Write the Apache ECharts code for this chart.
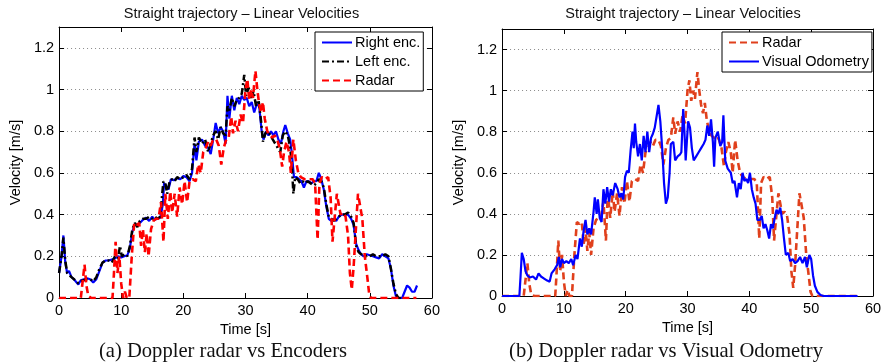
<!DOCTYPE html>
<html>
<head>
<meta charset="utf-8">
<script src="https://cdn.jsdelivr.net/npm/echarts@6/dist/echarts.min.js"></script>
<style>
  html, body { margin: 0; padding: 0; background: #fff; }
  .box { position: absolute; top: 0; width: 443px; height: 362px; }
  .enc { left: 0; }
  .vo { left: 443px; }
</style>
</head>
<body>
<div class="box enc"></div>
<div class="box vo"></div>
<script>
// time ticks / velocity ticks
var timeTicks = [0, 10, 20, 30, 40, 50, 60]
var velTicks = [0, 0.2, 0.4, 0.6, 0.8, 1, 1.2]

// [time s, velocity m/s]
var rightEnc = [[0,0.12],[0.4,0.2],[0.7,0.30],[1.0,0.17],[1.3,0.12],[1.6,0.13],[2.0,0.10],[2.4,0.09],[2.8,0.075],[3.1,0.065],[3.5,0.085],[4.0,0.09],[4.5,0.095],[5.0,0.09],[5.5,0.075],[6.0,0.09],[6.5,0.13],[7.0,0.17],[7.5,0.18],[8.0,0.18],[8.5,0.185],[9.0,0.19],[9.5,0.2],[10.0,0.195],[10.5,0.2],[11.0,0.205],[11.4,0.24],[11.8,0.32],[12.2,0.355],[12.6,0.35],[13.0,0.36],[13.5,0.375],[14.0,0.385],[14.5,0.37],[15.0,0.39],[15.4,0.375],[15.8,0.38],[16.3,0.385],[16.7,0.45],[16.9,0.55],[17.2,0.54],[17.6,0.52],[18.0,0.57],[18.5,0.565],[19.0,0.575],[19.5,0.57],[20.0,0.585],[20.5,0.58],[21.0,0.56],[21.4,0.6],[21.8,0.74],[22.1,0.66],[22.5,0.75],[23.0,0.76],[23.5,0.73],[24.0,0.72],[24.4,0.69],[24.8,0.76],[25.2,0.84],[25.6,0.79],[26.0,0.82],[26.4,0.8],[26.8,0.74],[27.1,0.97],[27.4,0.86],[27.8,0.97],[28.2,0.9],[28.6,0.96],[29.0,0.93],[29.4,0.97],[29.8,0.95],[30.2,0.96],[30.6,0.92],[31.0,0.94],[31.4,0.89],[31.8,0.93],[32.2,0.92],[32.6,0.8],[32.9,0.76],[33.3,0.8],[33.7,0.78],[34.1,0.8],[34.5,0.78],[34.9,0.8],[35.3,0.76],[35.7,0.74],[36.1,0.8],[36.4,0.83],[36.8,0.79],[37.2,0.76],[37.5,0.68],[37.8,0.58],[38.2,0.58],[38.6,0.57],[39.0,0.56],[39.4,0.53],[39.8,0.56],[40.2,0.56],[40.6,0.55],[41.0,0.56],[41.4,0.56],[41.8,0.6],[42.2,0.57],[42.6,0.52],[43.0,0.44],[43.4,0.38],[43.8,0.37],[44.2,0.38],[44.6,0.37],[45.0,0.39],[45.5,0.4],[46.0,0.4],[46.5,0.4],[47.0,0.38],[47.4,0.35],[47.8,0.26],[48.2,0.23],[48.6,0.21],[49.0,0.2],[49.5,0.21],[50.0,0.205],[50.5,0.2],[51.0,0.195],[51.5,0.19],[52.0,0.21],[52.5,0.2],[53.0,0.19],[53.4,0.14],[53.8,0.06],[54.2,0.01],[54.6,0],[55.2,0],[55.6,0.03],[56.0,0.06],[56.4,0.05],[56.8,0.03],[57.2,0.03],[57.6,0.06]]

var leftEnc = [[0,0.12],[0.4,0.2],[0.7,0.29],[1.0,0.18],[1.3,0.12],[1.6,0.12],[2.0,0.1],[2.4,0.09],[2.8,0.08],[3.1,0.07],[3.5,0.08],[4.0,0.085],[4.5,0.09],[5.0,0.09],[5.5,0.08],[6.0,0.1],[6.5,0.14],[7.0,0.17],[7.5,0.18],[8.0,0.18],[8.5,0.17],[9.0,0.2],[9.5,0.19],[9.8,0.25],[10.1,0.2],[10.5,0.21],[11.0,0.2],[11.4,0.25],[11.8,0.33],[12.2,0.36],[12.6,0.34],[13.0,0.37],[13.5,0.38],[14.0,0.38],[14.5,0.39],[15.0,0.38],[15.4,0.39],[15.8,0.38],[16.3,0.39],[16.6,0.5],[16.8,0.56],[17.1,0.55],[17.4,0.5],[17.8,0.56],[18.2,0.57],[18.6,0.56],[19.0,0.58],[19.5,0.57],[20.0,0.58],[20.5,0.59],[21.0,0.57],[21.4,0.62],[21.8,0.77],[22.1,0.7],[22.5,0.77],[23.0,0.74],[23.5,0.76],[24.0,0.7],[24.4,0.74],[24.8,0.78],[25.2,0.8],[25.6,0.76],[26.0,0.82],[26.4,0.79],[26.8,0.78],[27.1,0.92],[27.4,0.9],[27.8,0.96],[28.2,0.92],[28.6,0.95],[29.0,0.96],[29.4,0.98],[29.8,1.07],[30.1,0.97],[30.5,1.01],[30.9,0.96],[31.3,0.99],[31.7,0.92],[32.1,0.95],[32.5,0.85],[32.8,0.75],[33.2,0.79],[33.6,0.8],[34.0,0.78],[34.4,0.76],[34.8,0.74],[35.2,0.72],[35.6,0.7],[36.0,0.78],[36.4,0.8],[36.8,0.78],[37.2,0.72],[37.5,0.62],[37.7,0.5],[38.0,0.58],[38.4,0.57],[38.8,0.55],[39.2,0.56],[39.6,0.55],[40.0,0.56],[40.5,0.55],[41.0,0.54],[41.4,0.55],[41.8,0.57],[42.2,0.56],[42.6,0.53],[43.0,0.45],[43.4,0.39],[43.8,0.38],[44.2,0.37],[44.6,0.38],[45.0,0.39],[45.5,0.4],[46.0,0.4],[46.5,0.41],[47.0,0.39],[47.4,0.36],[47.8,0.25],[48.2,0.22],[48.6,0.21],[49.0,0.21],[49.5,0.2],[50.0,0.2],[50.5,0.21],[51.0,0.2],[51.5,0.2],[52.0,0.2],[52.5,0.21],[53.0,0.2],[53.4,0.14],[53.8,0.07],[54.2,0.02],[54.6,0],[55.0,0]]

var radar = [[0,0],[3.5,0],[3.8,0.08],[4.1,0.16],[4.4,0.06],[4.7,0.01],[5.2,0],[8.6,0],[8.8,0.1],[9.1,0.27],[9.4,0.12],[9.7,0.2],[10.0,0.07],[10.3,0.0],[10.6,0.03],[10.9,0],[11.3,0],[11.7,0.2],[12.1,0.36],[12.5,0.35],[12.9,0.36],[13.2,0.25],[13.5,0.33],[13.8,0.22],[14.1,0.31],[14.4,0.2],[14.8,0.33],[15.2,0.37],[15.6,0.38],[16.0,0.38],[16.4,0.46],[16.8,0.27],[17.1,0.5],[17.5,0.38],[17.9,0.51],[18.2,0.41],[18.6,0.5],[19.0,0.39],[19.4,0.53],[19.8,0.45],[20.2,0.56],[20.6,0.46],[21.0,0.56],[21.5,0.57],[22.0,0.56],[22.4,0.64],[22.8,0.6],[23.2,0.7],[23.6,0.72],[24.0,0.75],[24.4,0.73],[24.8,0.76],[25.3,0.76],[25.7,0.73],[26.1,0.64],[26.5,0.72],[26.9,0.76],[27.3,0.77],[27.7,0.87],[28.0,0.79],[28.4,0.85],[28.8,0.8],[29.2,0.88],[29.6,0.84],[30.0,1.0],[30.3,1.05],[30.6,0.95],[30.9,1.0],[31.2,0.96],[31.6,1.09],[31.9,1.0],[32.2,0.93],[32.5,0.89],[32.8,0.94],[33.1,0.86],[33.5,0.8],[33.9,0.78],[34.3,0.77],[34.7,0.78],[35.1,0.76],[35.5,0.72],[35.9,0.63],[36.2,0.7],[36.6,0.75],[37.0,0.7],[37.3,0.6],[37.7,0.76],[38.1,0.66],[38.5,0.6],[38.9,0.58],[39.5,0.57],[40.2,0.57],[40.8,0.57],[41.2,0.55],[41.6,0.28],[41.9,0.55],[42.3,0.58],[42.8,0.57],[43.3,0.58],[43.7,0.48],[44.0,0.27],[44.3,0.37],[44.7,0.5],[45.0,0.45],[45.3,0.4],[45.7,0.41],[46.1,0.39],[46.5,0.3],[46.8,0.12],[47.1,0.04],[47.4,0.15],[47.7,0.3],[48.1,0.5],[48.4,0.45],[48.8,0.38],[49.2,0.2],[49.6,0.1],[49.9,0.02],[50.2,0],[57.5,0]]

var visualOdo = [[0,0],[2.8,0],[3.0,0.1],[3.2,0.21],[3.5,0.18],[3.8,0.12],[4.1,0.1],[4.5,0.09],[5.0,0.095],[5.5,0.08],[5.9,0.11],[6.3,0.095],[6.8,0.085],[7.3,0.075],[7.7,0.07],[8.0,0.11],[8.5,0.13],[8.9,0.15],[9.2,0.19],[9.4,0.14],[9.7,0.18],[10.0,0.16],[10.4,0.17],[10.8,0.16],[11.2,0.18],[11.5,0.15],[11.9,0.2],[12.2,0.18],[12.6,0.28],[12.9,0.24],[13.2,0.32],[13.5,0.37],[13.8,0.3],[14.1,0.33],[14.4,0.3],[14.8,0.41],[15.0,0.48],[15.3,0.4],[15.5,0.47],[15.8,0.38],[16.1,0.36],[16.4,0.52],[16.7,0.45],[17.0,0.53],[17.3,0.46],[17.6,0.52],[17.9,0.49],[18.3,0.55],[18.7,0.52],[19.0,0.48],[19.3,0.5],[19.6,0.47],[19.9,0.58],[20.2,0.61],[20.5,0.6],[20.8,0.71],[21.1,0.8],[21.3,0.72],[21.5,0.84],[21.7,0.75],[22.0,0.68],[22.3,0.74],[22.6,0.66],[22.9,0.78],[23.2,0.7],[23.5,0.8],[23.8,0.7],[24.1,0.77],[24.4,0.79],[24.7,0.82],[25.0,0.82],[25.3,0.93],[25.6,0.85],[25.9,0.72],[26.2,0.55],[26.5,0.45],[26.8,0.48],[27.1,0.6],[27.3,0.74],[27.7,0.75],[28.0,0.66],[28.4,0.68],[28.8,0.69],[29.0,0.7],[29.3,0.91],[29.5,0.8],[29.7,0.66],[30.1,0.85],[30.4,0.82],[30.7,0.72],[31.0,0.66],[31.4,0.68],[31.8,0.7],[32.2,0.72],[32.6,0.74],[32.9,0.76],[33.2,0.83],[33.5,0.78],[33.8,0.86],[34.1,0.75],[34.3,0.63],[34.5,0.77],[34.9,0.8],[35.3,0.73],[35.6,0.75],[35.8,0.88],[36.1,0.66],[36.5,0.62],[37.0,0.6],[37.3,0.55],[37.6,0.56],[38.0,0.48],[38.3,0.55],[38.6,0.52],[38.9,0.6],[39.2,0.56],[39.5,0.57],[39.8,0.55],[40.1,0.6],[40.4,0.52],[40.7,0.48],[41.0,0.45],[41.3,0.37],[41.7,0.37],[42.0,0.39],[42.3,0.33],[42.6,0.35],[42.9,0.32],[43.2,0.28],[43.5,0.35],[43.8,0.33],[44.1,0.38],[44.4,0.42],[44.7,0.4],[45.0,0.43],[45.3,0.37],[45.6,0.28],[45.9,0.2],[46.3,0.21],[46.6,0.17],[47.0,0.18],[47.4,0.16],[47.8,0.17],[48.2,0.19],[48.6,0.16],[49.0,0.19],[49.3,0.14],[49.7,0.2],[50.0,0.18],[50.3,0.1],[50.6,0.05],[51.0,0.02],[51.5,0.005],[52.0,0],[57.5,0]]

var sans = 'Liberation Sans, Arial, sans-serif'
var serif = 'Liberation Serif, Times New Roman, serif'

// shared frame: box with inward ticks, dotted y grid
function buildOption(grid, caption, legend, series) {
  var midX = grid.left + (443 - grid.left - grid.right) / 2
  var tickCommon = { show: true, inside: true, length: 5, lineStyle: { color: '#000' } }
  var lineCommon = { show: true, onZero: false, lineStyle: { color: '#000', width: 1 } }
  return {
    animation: false,
    title: [
      {
        text: 'Straight trajectory \u2013 Linear Velocities',
        left: midX - 4, top: 1, textAlign: 'center',
        textStyle: { fontFamily: sans, fontSize: 14.5, fontWeight: 'normal', color: '#111' }
      },
      {
        text: caption,
        left: 218, top: 336, textAlign: 'center',
        textStyle: { fontFamily: serif, fontSize: 20.6, fontWeight: 'normal', color: '#111' }
      }
    ],
    legend: legend,
    grid: grid,
    xAxis: [
      {
        type: 'value', min: timeTicks[0], max: timeTicks[timeTicks.length - 1], interval: 10,
        name: 'Time [s]', nameLocation: 'middle', nameGap: 19,
        nameTextStyle: { fontFamily: sans, fontSize: 14.5, color: '#000' },
        axisLine: lineCommon, axisTick: tickCommon,
        axisLabel: { fontFamily: sans, fontSize: 14.5, color: '#000', margin: 5 },
        splitLine: { show: false }
      },
      {
        type: 'value', position: 'top', min: 0, max: 60, interval: 10,
        axisLine: lineCommon, axisTick: tickCommon,
        axisLabel: { show: false }, splitLine: { show: false }
      }
    ],
    yAxis: [
      {
        type: 'value', min: velTicks[0], max: 1.3, interval: 0.2,
        name: 'Velocity [m/s]', nameLocation: 'middle', nameGap: 29,
        nameTextStyle: { fontFamily: sans, fontSize: 14.5, color: '#000' },
        axisLine: lineCommon, axisTick: tickCommon,
        axisLabel: { fontFamily: sans, fontSize: 14.5, color: '#000', margin: 5, showMaxLabel: false },
        splitLine: { show: true, lineStyle: { color: '#8a8a8a', width: 1, type: [1, 3] } }
      },
      {
        type: 'value', position: 'right', min: 0, max: 1.3, interval: 0.2,
        axisLine: lineCommon, axisTick: tickCommon,
        axisLabel: { show: false }, splitLine: { show: false }
      }
    ],
    series: series
  }
}

function legendBox(left, top, names) {
  return {
    data: names,
    orient: 'vertical',
    left: left, top: top,
    padding: [3, 3, 3, 6],
    itemGap: 4,
    itemWidth: 30,
    itemHeight: 14,
    backgroundColor: '#fff',
    borderColor: '#000',
    borderWidth: 1,
    borderRadius: 0,
    selectedMode: false,
    // hide the marker, keep only the line sample
    itemStyle: { opacity: 0, borderWidth: 0 },
    textStyle: { fontFamily: sans, fontSize: 14.5, color: '#000', padding: [0, 0, 0, -2] }
  }
}

function lineSeries(name, data, color, width, type) {
  return {
    name: name, type: 'line', data: data,
    symbol: 'none', smooth: false,
    lineStyle: { color: color, width: width, type: type },
    itemStyle: { color: color }
  }
}

// (a) radar vs encoders
(function () {
  var chart = echarts.init(document.querySelector('.enc'), null, { renderer: 'canvas' })
  chart.setOption(buildOption(
    { left: 49, right: 11, top: 27, bottom: 64 },
    '(a) Doppler radar vs Encoders',
    legendBox(315, 32, ['Right enc.', 'Left enc.', 'Radar']),
    [
      lineSeries('Right enc.', rightEnc, '#0000ff', 2.2, 'solid'),
      lineSeries('Left enc.', leftEnc, '#000000', 2.5, [7, 3, 2, 3]),
      lineSeries('Radar', radar, '#ff0000', 2.6, [7, 4])
    ]
  ))
})();

// (b) radar vs visual odometry
(function () {
  var chart = echarts.init(document.querySelector('.vo'), null, { renderer: 'canvas' })
  chart.setOption(buildOption(
    { left: 48, right: 13, top: 29, bottom: 66 },
    '(b) Doppler radar vs Visual Odometry',
    legendBox(279, 32, ['Radar', 'Visual Odometry']),
    [
      lineSeries('Radar', radar, '#e0401c', 2.6, [7, 4]),
      lineSeries('Visual Odometry', visualOdo, '#0000ff', 2.2, 'solid')
    ]
  ))
})();
</script>
</body>
</html>
